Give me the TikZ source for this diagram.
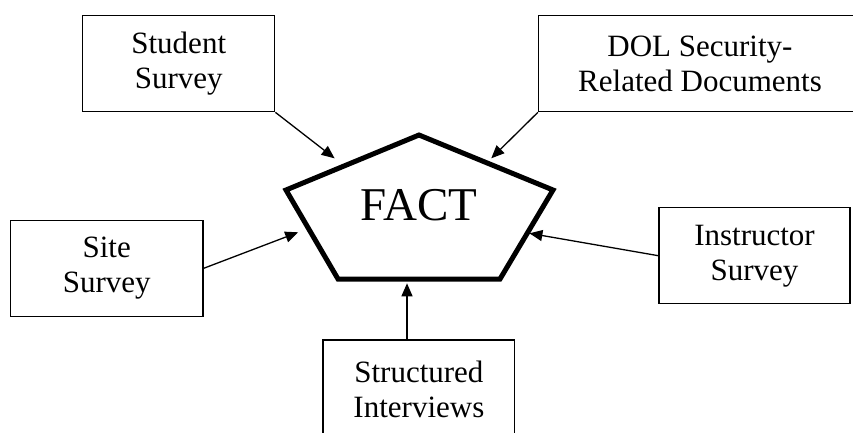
\documentclass[tikz,border=0pt]{standalone}
\usepackage{fontspec}
\setmainfont{Liberation Serif}
\usetikzlibrary{arrows.meta,calc}
\begin{document}
\begin{tikzpicture}[x=1pt,y=-1pt,
  srcbox/.style={draw,line width=1.3pt,inner sep=0pt,align=center,
    font=\fontsize{31}{35}\selectfont},
  arr/.style={line width=1.3pt,-{Triangle[length=13pt,width=11pt]}},
  pent/.style={line width=5pt,line join=miter}]
\clip (0,0) rectangle (853,432);
\node[srcbox,minimum width=192pt,minimum height=96.4pt] (ss) at (178.75,63.5) {Student\\Survey};
\node[srcbox,minimum width=323pt,minimum height=96.4pt] (dol) at (700,63.5) {DOL Security-\\Related Documents};
\node[srcbox,minimum width=192.7pt,minimum height=96pt] (site) at (106.7,268.3) {Site\\Survey};
\node[srcbox,minimum width=191pt,minimum height=96pt] (ins) at (754.5,255.7) {Instructor\\Survey};
\node[srcbox,minimum width=191.7pt,minimum height=98pt] (si) at (418.9,389) {Structured\\Interviews};
\draw[pent] (419,135) -- (553,190) -- (500,279) -- (338,279) -- (286,190) -- cycle;
\node[inner sep=0pt,font=\fontsize{47}{50}\selectfont] (fact) at (419,205) {FACT};
\coordinate (t1) at (334.6,158.3);
\coordinate (t2) at (491.3,158.3);
\coordinate (t3) at (298.2,232.3);
\coordinate (t4) at (529.4,233.3);
\coordinate (t5) at (407,283.3);
\draw[arr] (ss.south east) -- (t1);
\draw[arr] (dol.south west) -- (t2);
\draw[arr] (site.east) -- (t3);
\draw[arr] (ins.west) -- (t4);
\draw[arr] (si.north -| t5) -- (t5);
\end{tikzpicture}
\end{document}
